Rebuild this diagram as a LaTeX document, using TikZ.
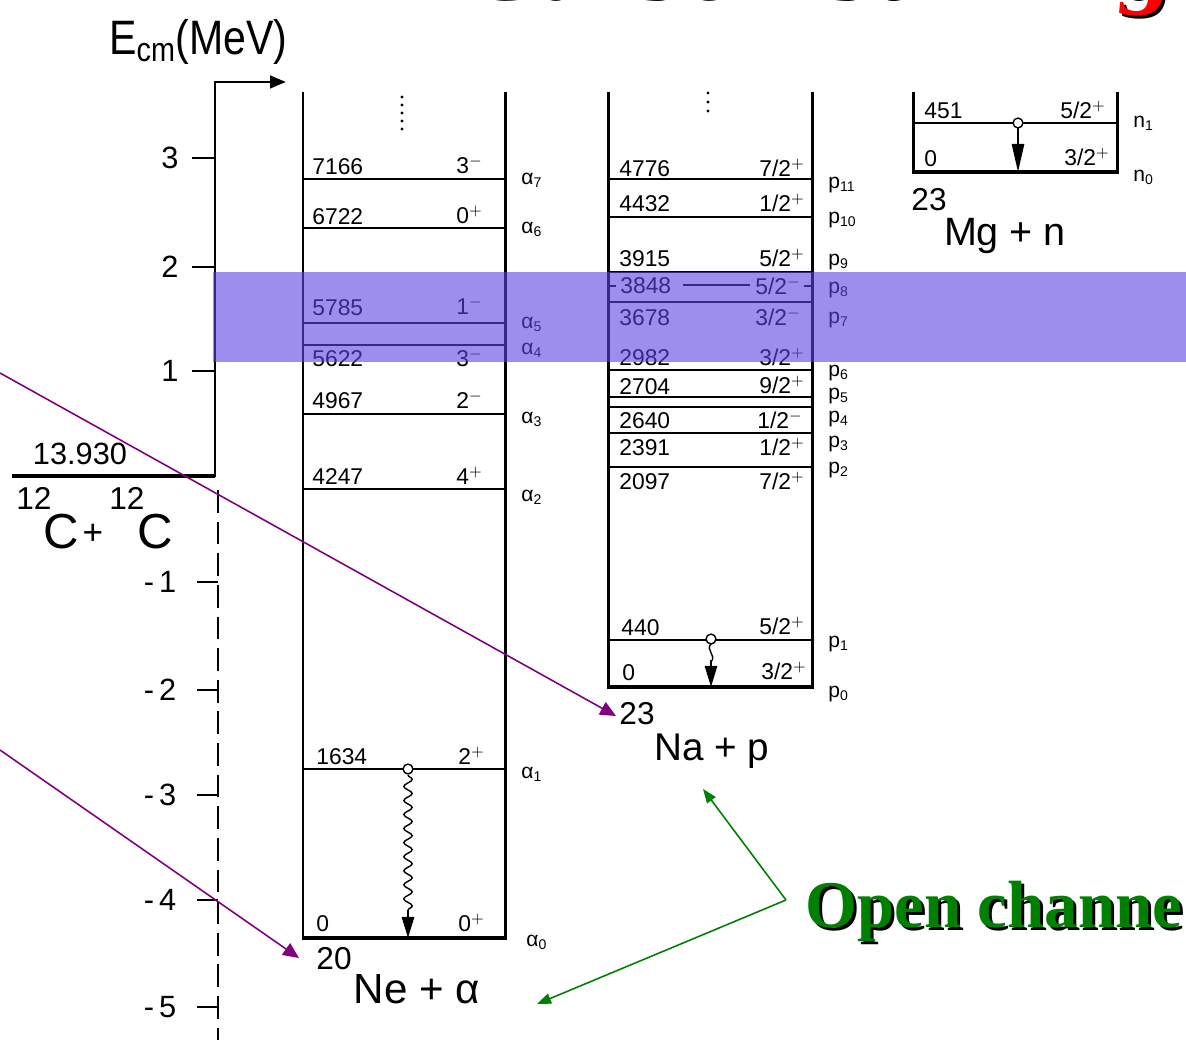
\documentclass[tikz,border=0pt]{standalone}
\usepackage{fontspec}
\setmainfont{Liberation Sans}
\newfontfamily\seriff{Liberation Serif}
\usetikzlibrary{arrows.meta,decorations.pathmorphing}
\definecolor{bandblue}{RGB}{92,67,227}
\definecolor{arrpurple}{RGB}{128,0,128}
\definecolor{arrgreen}{RGB}{0,128,0}
\definecolor{titlered}{RGB}{255,0,0}
\tikzset{
  colside/.style={line width=1.7pt},
  level/.style={line width=1.1pt},
  ground/.style={line width=2.5pt},
  axisline/.style={line width=1.7pt},
  numtxt/.style={font=\fontsize{13}{13}\selectfont, inner sep=0pt, anchor=west},
  spintxt/.style={font=\fontsize{13}{13}\selectfont, inner sep=0pt, anchor=east},
  chantxt/.style={font=\fontsize{12}{12}\selectfont, inner sep=0pt, anchor=west},
  axtxt/.style={font=\fontsize{17.5}{17.5}\selectfont, inner sep=0pt},
  bigtxt/.style={font=\fontsize{24}{24}\selectfont, inner sep=0pt},
  bigC/.style={font=\fontsize{28}{28}\selectfont, inner sep=0pt},
  suptxt/.style={font=\fontsize{18}{18}\selectfont, inner sep=0pt},
  opentxt/.style={font=\seriff\bfseries\fontsize{38}{38}\selectfont, inner sep=0pt, anchor=base west},
  titletxt/.style={font=\seriff\bfseries\itshape\fontsize{50}{50}\selectfont, inner sep=0pt, anchor=base west, xscale=1.2},
  purplearrow/.style={draw=arrpurple, line width=0.9pt, -{Triangle[length=9pt,width=8pt]}},
  greenarrow/.style={draw=arrgreen, line width=0.9pt, -{Triangle[length=8pt,width=6pt]}},
  gammadot/.style={draw, line width=0.8pt, fill=white},
  gtip/.style={-{Triangle[length=12pt,width=7pt]}, line width=1pt},
  wavy/.style={decorate, decoration={snake, segment length=8pt, amplitude=2.4pt}, line width=0.8pt},
}
\begin{document}
\begin{tikzpicture}[x=0.02cm,y=-0.02cm]
\useasboundingbox (0,0) rectangle (1186,1040);
\clip (0,0) rectangle (1186,1040);
\fill[white] (0,0) rectangle (1186,1040);

% ---------- title (cut off at top) ----------
\node[titletxt, text=black] (titleshadow) at (471,1) {Carbon burning};
\node[titletxt, text=titlered] (title) at (468,-2) {Carbon burning};

% ---------- energy axis ----------
\node[font=\fontsize{27.5}{27.5}\selectfont, inner sep=0pt, anchor=base west, xscale=0.85] (ecm) at (109,55) {E\textsubscript{cm}(MeV)};
\draw[line width=2.2pt] (12,476) -- (215,476);
\draw[axisline, -{Triangle[length=9pt,width=7pt]}] (215,477) -- (215,82) -- (286,82);
\draw[line width=1.5pt, dash pattern=on 13pt off 5pt] (218,490) -- (218,1040);
\foreach \yy/\lab in {158/3, 267/2, 371/1}{
  \draw[line width=1.3pt] (192,\yy) -- (215,\yy);
  \node[axtxt] (tick\lab) at (170,\yy) {\lab};
}
\foreach \yy/\lab in {582/1, 690/2, 795/3, 900/4, 1007/5}{
  \draw[line width=1.3pt] (197,\yy) -- (218,\yy);
  \node[axtxt] (tickm\lab) at (160,\yy) {-\,\lab};
}
\node[axtxt] (thr) at (80,454) {13.930};
\node[suptxt] (c1m) at (34,498) {12};
\node[bigC] (c1) at (61,532) {C};
\node[font=\fontsize{20}{20}\selectfont, inner sep=0pt] (cplus) at (93,534) {+};
\node[suptxt] (c2m) at (127,498) {12};
\node[bigC] (c2) at (155,532) {C};

% ---------- 20Ne + alpha ----------
\draw[colside] (303,92) -- (303,940);
\draw[colside] (505,92) -- (505,940);
\foreach \yy in {179,228,323,345,414,489,769}{
  \draw[level] (303,\yy) -- (505,\yy);
}
\draw[ground] (302,938) -- (506,938);
\foreach \yy in {97,105,113,121,129}{ \fill (402,\yy) circle (0.9pt); }
\node[numtxt] (ne7e) at (312,167) {7166};
\node[numtxt] (ne6e) at (312,217) {6722};
\node[numtxt] (ne5e) at (312,308) {5785};
\node[numtxt] (ne4e) at (312,359) {5622};
\node[numtxt] (ne3e) at (312,401) {4967};
\node[numtxt] (ne2e) at (312,477) {4247};
\node[numtxt] (ne1e) at (316,757) {1634};
\node[numtxt] (ne0e) at (316,924) {0};
\node[spintxt] (ne7j) at (483,165) {3$^{-}$};
\node[spintxt] (ne6j) at (483,215) {0$^{+}$};
\node[spintxt] (ne5j) at (483,306) {1$^{-}$};
\node[spintxt] (ne4j) at (483,358) {3$^{-}$};
\node[spintxt] (ne3j) at (483,400) {2$^{-}$};
\node[spintxt] (ne2j) at (483,476) {4$^{+}$};
\node[spintxt] (ne1j) at (485,756) {2$^{+}$};
\node[spintxt] (ne0j) at (485,923) {0$^{+}$};
\foreach \yy/\k in {180/7, 229/6, 324/5, 350/4, 419/3, 497/2, 774/1}{
  \node[chantxt] (alpha\k) at (521,\yy) {α\textsubscript{\k}};
}
\node[chantxt] (alpha0) at (526,942) {α\textsubscript{0}};
\draw[gammadot] (408,769) circle (2.8pt);
\draw[wavy] (408,775) -- (408,912);
\draw[gtip] (408,910) -- (408,938);
\node[suptxt] (ne20) at (334,959) {20};
\node[bigtxt] (nealpha) at (417,989) {Ne + α};

% ---------- 23Na + p ----------
\draw[colside] (608,92) -- (608,689);
\draw[colside] (812,92) -- (812,689);
\foreach \yy in {179,217,272,302,370,397,407,433,467,640}{
  \draw[level] (608,\yy) -- (812,\yy);
}
\draw[ground] (607,687) -- (813,687);
\foreach \yy in {93,102,111}{ \fill (708,\yy) circle (0.9pt); }
\draw[line width=1pt] (609,286) -- (616,286);
\draw[line width=1pt] (683,285) -- (750,285);
\draw[line width=1pt] (804,286) -- (811,286);
\node[numtxt] (na11e) at (619,169) {4776};
\node[numtxt] (na10e) at (619,204) {4432};
\node[numtxt] (na9e) at (619,259) {3915};
\node[numtxt] (na8e) at (620,286) {3848};
\node[numtxt] (na7e) at (619,318) {3678};
\node[numtxt] (na6e) at (619,358) {2982};
\node[numtxt] (na5e) at (619,387) {2704};
\node[numtxt] (na4e) at (619,421) {2640};
\node[numtxt] (na3e) at (619,448) {2391};
\node[numtxt] (na2e) at (619,482) {2097};
\node[numtxt] (na1e) at (621,628) {440};
\node[numtxt] (na0e) at (622,673) {0};
\node[spintxt] (na11j) at (805,168) {7/2$^{+}$};
\node[spintxt] (na10j) at (805,203) {1/2$^{+}$};
\node[spintxt] (na9j) at (805,258) {5/2$^{+}$};
\node[spintxt] (na8j) at (801,286) {5/2$^{-}$};
\node[spintxt] (na7j) at (801,317) {3/2$^{-}$};
\node[spintxt] (na6j) at (805,357) {3/2$^{+}$};
\node[spintxt] (na5j) at (805,385) {9/2$^{+}$};
\node[spintxt] (na4j) at (803,420) {1/2$^{-}$};
\node[spintxt] (na3j) at (805,447) {1/2$^{+}$};
\node[spintxt] (na2j) at (805,481) {7/2$^{+}$};
\node[spintxt] (na1j) at (805,626) {5/2$^{+}$};
\node[spintxt] (na0j) at (807,671) {3/2$^{+}$};
\foreach \yy/\k in {185/11, 220/10, 262/9, 290/8, 320/7, 373/6, 396/5, 419/4, 444/3, 470/2, 644/1, 694/0}{
  \node[chantxt] (p\k) at (828,\yy) {p\textsubscript{\k}};
}
\draw[gammadot] (711,639) circle (2.8pt);
\draw[line width=0.8pt] (711,644) .. controls (705,650) and (717,655) .. (711,662);
\draw[gtip] (711,660) -- (711,687);
\node[suptxt] (na23) at (637,714) {23};
\node[font=\fontsize{22}{22}\selectfont, inner sep=0pt] (nap) at (712,751) {Na + p};

% ---------- 23Mg + n ----------
\draw[colside] (913,92) -- (913,174);
\draw[colside] (1117,92) -- (1117,174);
\draw[level] (913,123) -- (1117,123);
\draw[ground] (912,172) -- (1118,172);
\node[numtxt] (mg1e) at (924,111) {451};
\node[numtxt] (mg0e) at (924,159) {0};
\node[spintxt] (mg1j) at (1106,110) {5/2$^{+}$};
\node[spintxt] (mg0j) at (1110,157) {3/2$^{+}$};
\node[chantxt] (n1) at (1133,123) {n\textsubscript{1}};
\node[chantxt] (n0) at (1133,177) {n\textsubscript{0}};
\draw[gammadot] (1018,123) circle (2.8pt);
\draw[line width=0.9pt] (1018,128) -- (1018,142);
\draw[line width=1pt, -{Triangle[length=16pt,width=7pt]}] (1018,140) -- (1018,172);
\node[suptxt] (mg23) at (929,200) {23};
\node[font=\fontsize{22.5}{22.5}\selectfont, inner sep=0pt] (mgn) at (1005,236) {Mg + n};

% ---------- highlighted band ----------
\fill[bandblue, opacity=0.6] (213,272) rectangle (1186,362);

% ---------- purple arrows ----------
\coordinate (pstart1) at (0,373);
\coordinate (ptip1) at (616,716);
\coordinate (pstart2) at (0,750);
\coordinate (ptip2) at (299,958);
\draw[purplearrow] (pstart1) -- (ptip1);
\draw[purplearrow] (pstart2) -- (ptip2);

% ---------- open channels ----------
\node[opentxt, text=black] (openshadow) at (808,930) {Open channe};
\node[opentxt, text=arrgreen] (open) at (805,927) {Open channe};
\coordinate (oc) at (786,900);
\coordinate (tipNa) at (703,789);
\coordinate (tipNe) at (537,1004);
\draw[greenarrow] (oc) -- (tipNa);
\draw[greenarrow] (oc) -- (tipNe);
\end{tikzpicture}
\end{document}
